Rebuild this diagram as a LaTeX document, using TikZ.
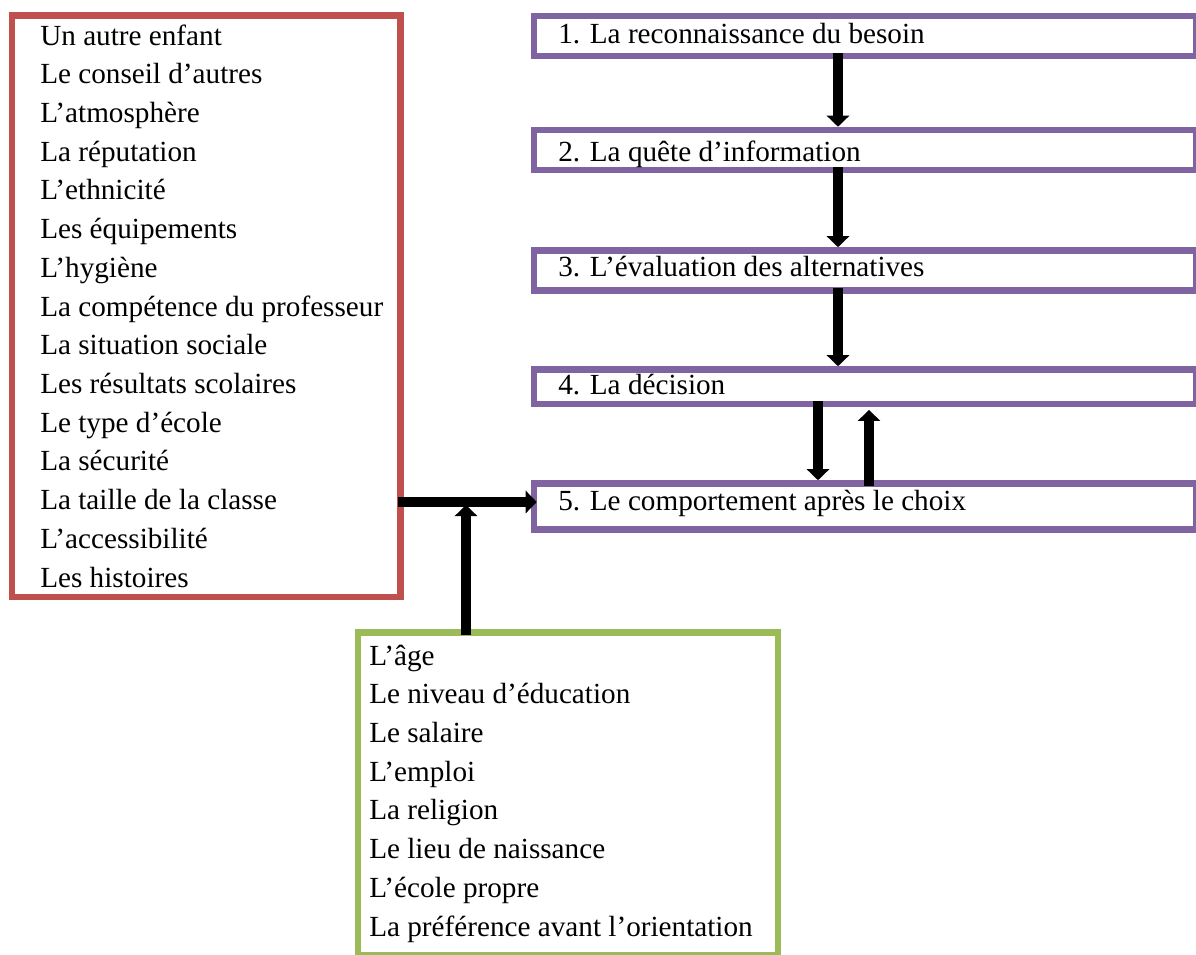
\documentclass[tikz,border=0pt]{standalone}
\usepackage{fontspec}
\setmainfont{Liberation Serif}
\usetikzlibrary{arrows.meta,fit}
\definecolor{boxred}{HTML}{C0504D}
\definecolor{boxpurple}{HTML}{8064A2}
\definecolor{boxgreen}{HTML}{9BBB59}
\begin{document}
\begin{tikzpicture}[x=0.75pt,y=-0.75pt,
  frame/.style={draw, line width=4.9pt, inner sep=0pt},
  redframe/.style={frame, draw=boxred},
  purpleframe/.style={frame, draw=boxpurple},
  greenframe/.style={frame, draw=boxgreen},
  item/.style={anchor=base west, inner sep=0pt, font=\fontsize{21.9}{26}\selectfont},
  flow/.style={line width=7.5pt, draw=black, -{Triangle[width=16.5pt,length=8.25pt]}},
]
\useasboundingbox (0,0) rectangle (1196,954);
\clip (0,0) rectangle (1196,954);

% frames
\node[redframe, fit={(12,15.5) (400.5,597)}] (factors) {};
\node[greenframe, fit={(358,632.5) (778,955)}] (parents) {};
\node[purpleframe, fit={(534,16) (1196,56)}] (b1) {};
\node[purpleframe, fit={(534,130) (1196,170)}] (b2) {};
\node[purpleframe, fit={(534,250.5) (1196,290.5)}] (b3) {};
\node[purpleframe, fit={(534,369.5) (1196,404)}] (b4) {};
\node[purpleframe, fit={(534,483.5) (1196,529.5)}] (b5) {};

% red list
\foreach \t [count=\i] in {Un autre enfant, Le conseil d’autres, L’atmosphère,
  La réputation, L’ethnicité, Les équipements, L’hygiène,
  La compétence du professeur, La situation sociale, Les résultats scolaires,
  Le type d’école, La sécurité, La taille de la classe, L’accessibilité,
  Les histoires}
  \node[item, name=r\i] at (40,{45+38.72*(\i-1)}) {\t};

% green list
\foreach \t [count=\i] in {L’âge, Le niveau d’éducation, Le salaire, L’emploi,
  La religion, Le lieu de naissance, L’école propre,
  La préférence avant l’orientation}
  \node[item, name=g\i] at (369,{665+38.72*(\i-1)}) {\t};

% step labels
\node[item] (t1) at (558,43) {1. La reconnaissance du besoin};
\node[item] (t2) at (558,161) {2. La quête d’information};
\node[item] (t3) at (558,276) {3. L’évaluation des alternatives};
\node[item] (t4) at (558,394) {4. La décision};
\node[item] (t5) at (558,510) {5. Le comportement après le choix};

% connector helpers
\coordinate (ax) at (838,0);
\coordinate (dx) at (818,0);
\coordinate (ux) at (869,0);
\coordinate (hy) at (0,502);
\coordinate (vx) at (466,0);
\coordinate (join) at (466,505);

% arrows
\draw[flow, shorten <=-4.5pt] (b1.south -| ax) -- (b2.north -| ax);
\draw[flow, shorten <=-4.5pt] (b2.south -| ax) -- (b3.north -| ax);
\draw[flow, shorten <=-4.5pt] (b3.south -| ax) -- (b4.north -| ax);
\draw[flow, shorten <=-4.5pt] (b4.south -| dx) -- (b5.north -| dx);
\draw[flow, shorten <=-4.5pt, shorten >=2pt] (b5.north -| ux) -- (b4.south -| ux);
\draw[flow, shorten <=-4.5pt, shorten >=-4.5pt] (factors.east |- hy) -- (b5.west |- hy);
\draw[flow, shorten <=-4.5pt] (parents.north -| vx) -- (join);
\end{tikzpicture}
\end{document}
